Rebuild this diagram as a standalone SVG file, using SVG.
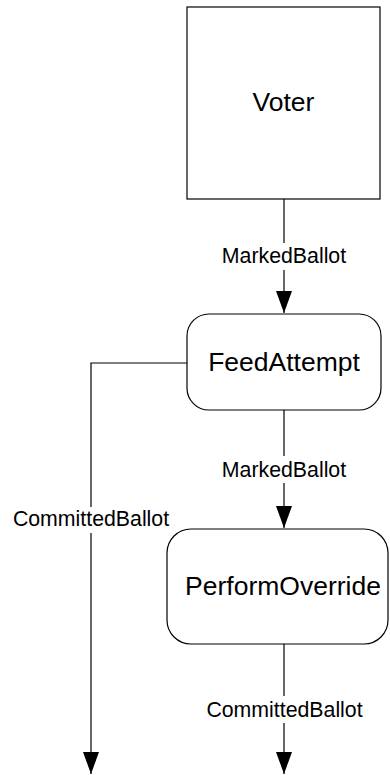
<svg xmlns="http://www.w3.org/2000/svg" width="390" height="775" viewBox="0 0 390 775">
<style>
.node{fill:#fff;stroke:#000;stroke-width:1.2}
.ntext{font-family:"Liberation Sans",Arial,sans-serif;font-size:26.5px;fill:#000;text-anchor:middle}
.edge{fill:none;stroke:#000;stroke-width:1.2}
.ltext{font-family:"Liberation Sans",Arial,sans-serif;font-size:21.3px;fill:#000;text-anchor:middle}
</style>
<defs>
<marker id="arrow" markerUnits="userSpaceOnUse" markerWidth="22" markerHeight="16" refX="22" refY="8" viewBox="0 0 22 16" orient="auto">
<path d="M0,0 L22,8 L0,16 Z" fill="#000"/>
</marker>
</defs>
<g id="connectors">
<g id="e1">
<path class="edge" d="M284,199 V243"/>
<path class="edge" d="M284,270 V313" marker-end="url(#arrow)"/>
<text class="ltext" x="284" y="263">MarkedBallot</text>
</g>
<g id="e2">
<path class="edge" d="M284,410 V456"/>
<path class="edge" d="M284,483 V528" marker-end="url(#arrow)"/>
<text class="ltext" x="284" y="477">MarkedBallot</text>
</g>
<g id="e3">
<path class="edge" d="M187,363 H91 V507"/>
<path class="edge" d="M91,533 V774" marker-end="url(#arrow)"/>
<text class="ltext" x="91" y="526">CommittedBallot</text>
</g>
<g id="e4">
<path class="edge" d="M284,644 V696"/>
<path class="edge" d="M284,723 V774" marker-end="url(#arrow)"/>
<text class="ltext" x="284.5" y="717">CommittedBallot</text>
</g>
</g>
<g id="Voter">
<rect class="node" x="187" y="7" width="193" height="192"/>
<text class="ntext" x="283.5" y="111">Voter</text>
</g>
<g id="FeedAttempt">
<rect class="node" x="187" y="314" width="194" height="96" rx="22" ry="22"/>
<text class="ntext" x="284" y="371">FeedAttempt</text>
</g>
<g id="PerformOverride">
<rect class="node" x="167" y="529" width="221" height="115" rx="24" ry="24"/>
<text class="ntext" x="283" y="595">PerformOverride</text>
</g>
</svg>
